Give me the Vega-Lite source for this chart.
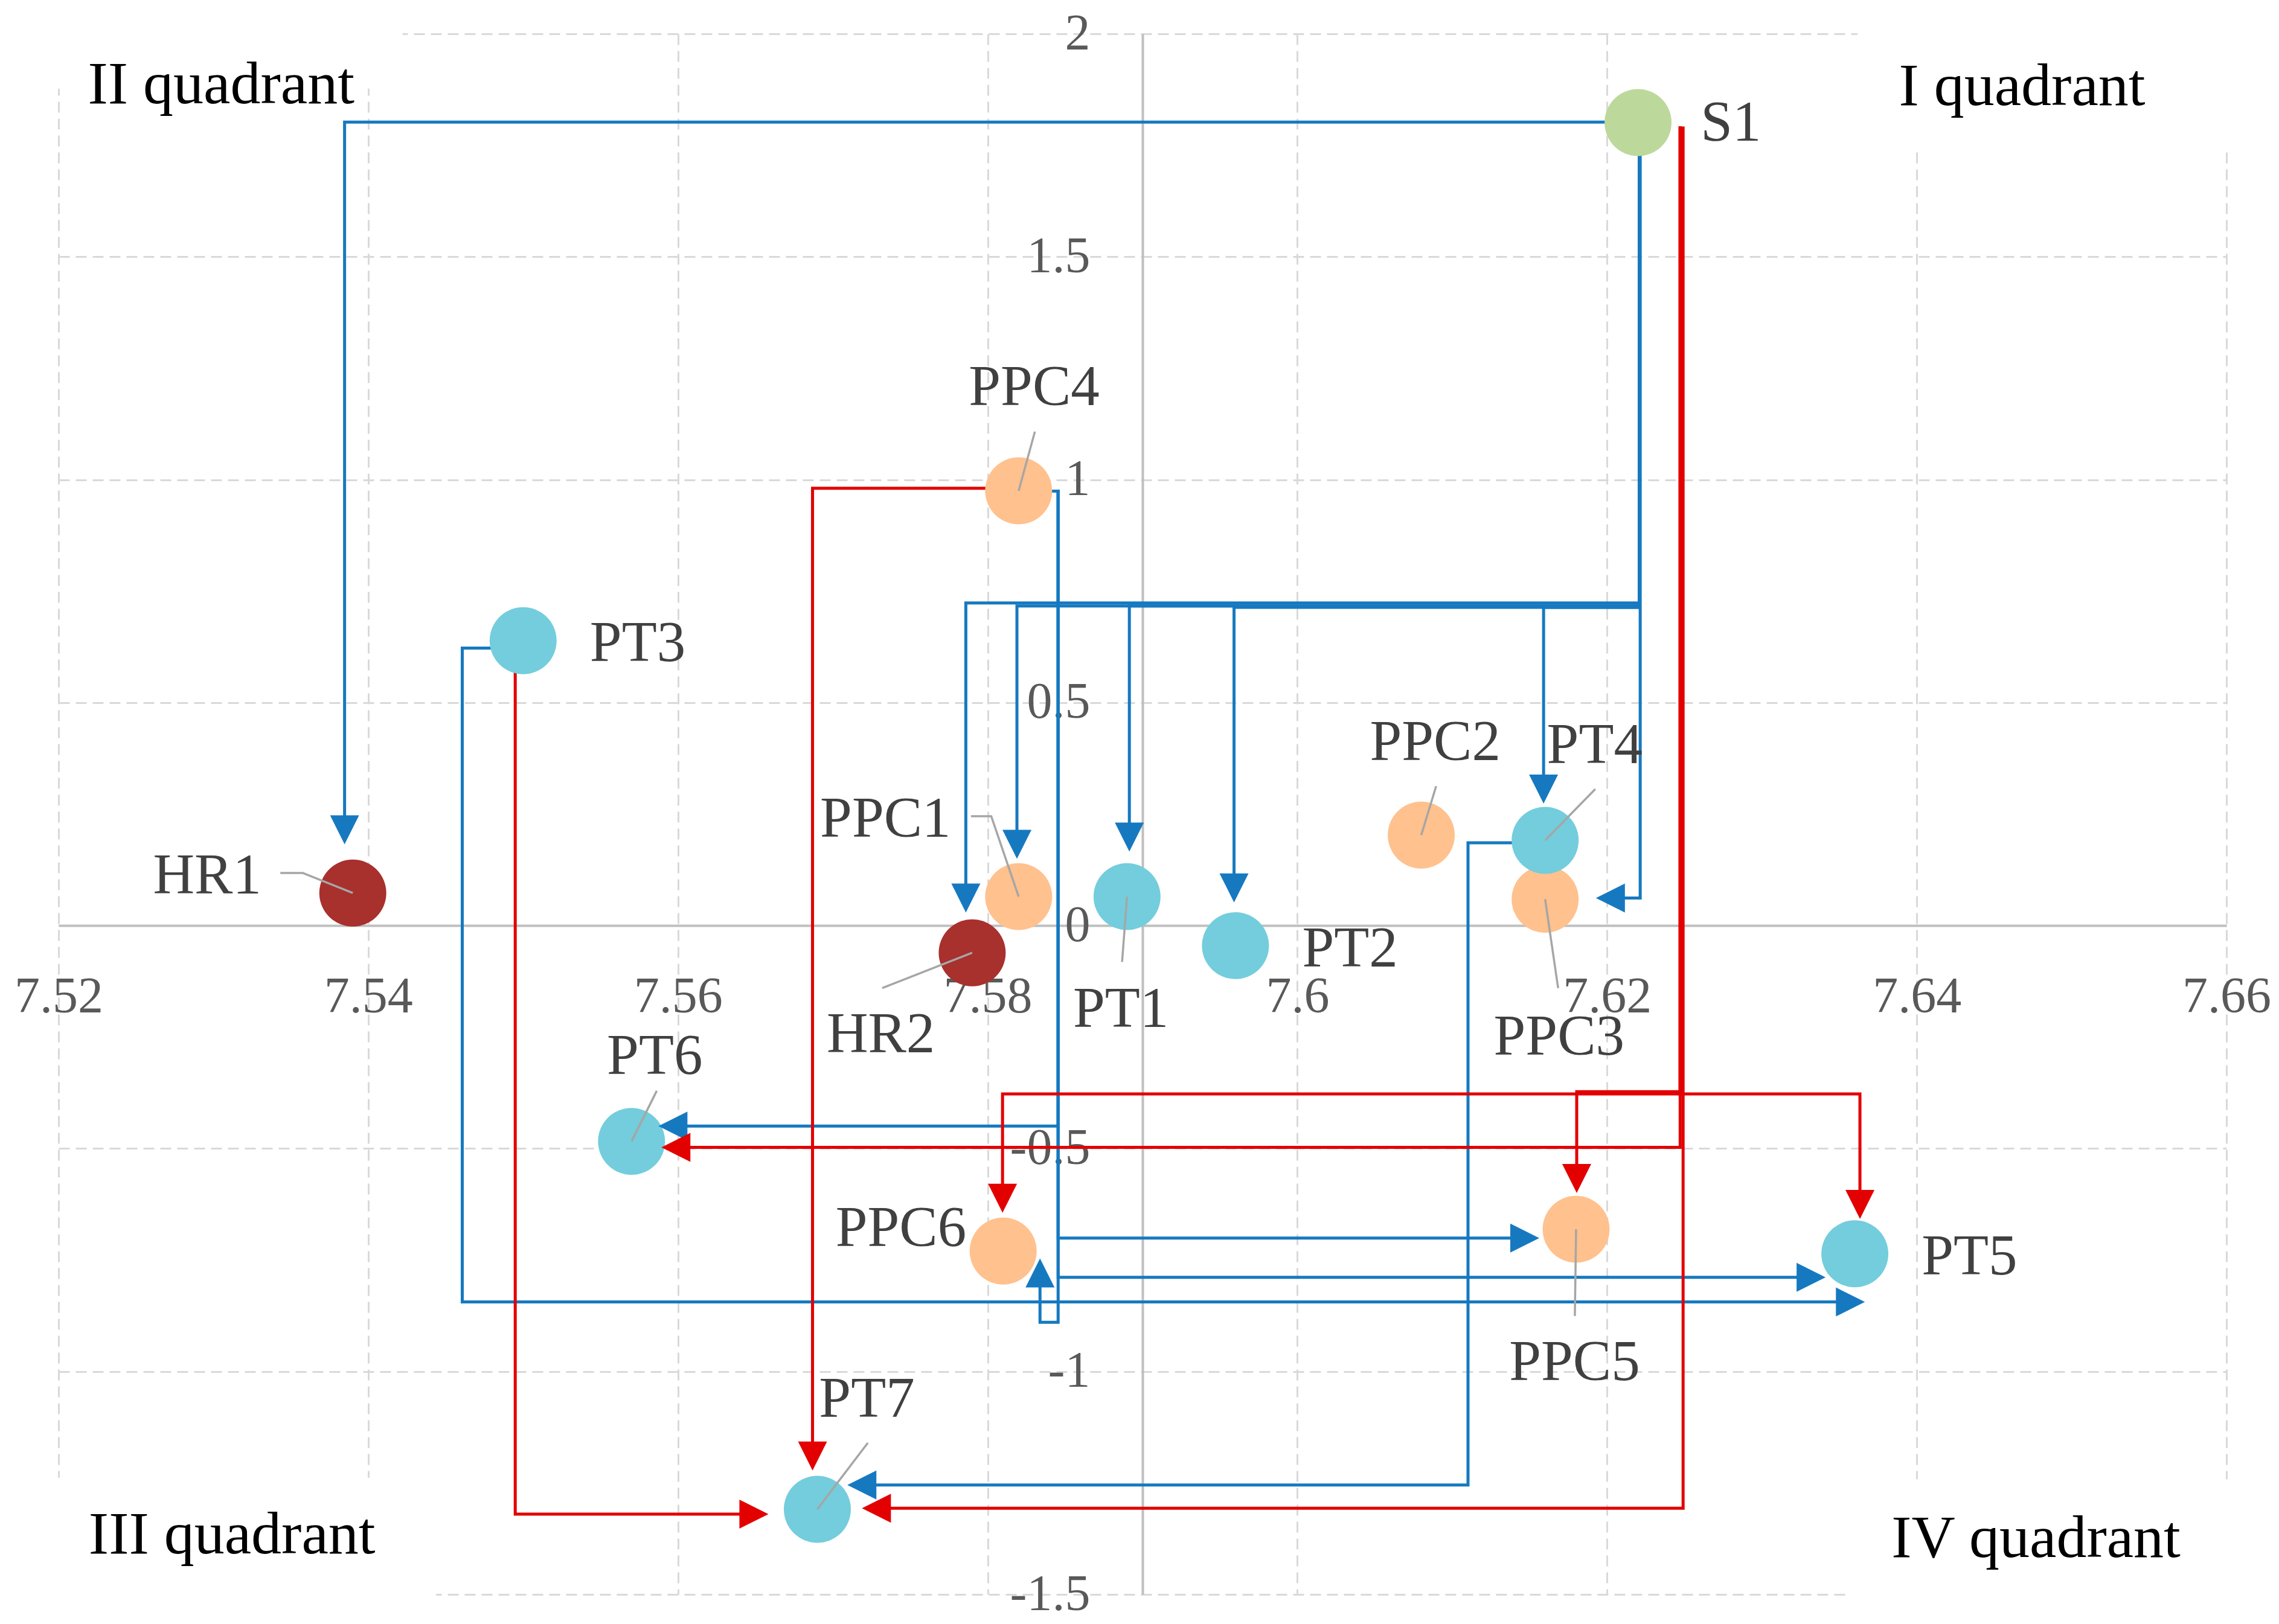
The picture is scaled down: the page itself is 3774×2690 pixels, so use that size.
{
  "$schema": "https://vega.github.io/schema/vega-lite/v6.json",
  "width": 3590,
  "height": 2585,
  "autosize": "none",
  "padding": {"left": 97, "top": 56, "right": 87, "bottom": 49},
  "background": "white",
  "config": {"view": {"stroke": null}, "font": "Liberation Serif"},
  "datasets": {
    "nodes": [
      {"name": "S1", "type": "S", "x": 7.622, "y": 1.801, "lx": 7.628, "ly": 1.799},
      {"name": "PPC4", "type": "PPC", "x": 7.582, "y": 0.975, "lx": 7.583, "ly": 1.207},
      {"name": "PT3", "type": "PT", "x": 7.55, "y": 0.639, "lx": 7.5574, "ly": 0.632},
      {"name": "HR1", "type": "HR", "x": 7.539, "y": 0.073, "lx": 7.5296, "ly": 0.111},
      {"name": "PPC1", "type": "PPC", "x": 7.582, "y": 0.065, "lx": 7.5734, "ly": 0.238},
      {"name": "HR2", "type": "HR", "x": 7.579, "y": -0.061, "lx": 7.5731, "ly": -0.245},
      {"name": "PT1", "type": "PT", "x": 7.589, "y": 0.065, "lx": 7.5886, "ly": -0.188},
      {"name": "PT2", "type": "PT", "x": 7.596, "y": -0.045, "lx": 7.6034, "ly": -0.053},
      {"name": "PPC2", "type": "PPC", "x": 7.608, "y": 0.203, "lx": 7.6089, "ly": 0.411},
      {"name": "PPC3", "type": "PPC", "x": 7.616, "y": 0.059, "lx": 7.6169, "ly": -0.25},
      {"name": "PT4", "type": "PT", "x": 7.616, "y": 0.191, "lx": 7.6192, "ly": 0.403},
      {"name": "PT6", "type": "PT", "x": 7.557, "y": -0.484, "lx": 7.5585, "ly": -0.293},
      {"name": "PPC6", "type": "PPC", "x": 7.581, "y": -0.73, "lx": 7.5744, "ly": -0.679},
      {"name": "PPC5", "type": "PPC", "x": 7.618, "y": -0.681, "lx": 7.6179, "ly": -0.98},
      {"name": "PT5", "type": "PT", "x": 7.636, "y": -0.736, "lx": 7.6434, "ly": -0.743},
      {"name": "PT7", "type": "PT", "x": 7.569, "y": -1.309, "lx": 7.5722, "ly": -1.063}
    ],
    "leaders": [
      {"name": "PPC4", "ord": 1, "x": 7.58305, "y": 1.10794},
      {"name": "PPC4", "ord": 2, "x": 7.582, "y": 0.975},
      {"name": "HR1", "ord": 1, "x": 7.53432, "y": 0.11789},
      {"name": "HR1", "ord": 2, "x": 7.53578, "y": 0.11789},
      {"name": "HR1", "ord": 3, "x": 7.539, "y": 0.073},
      {"name": "PPC1", "ord": 1, "x": 7.57892, "y": 0.24531},
      {"name": "PPC1", "ord": 2, "x": 7.58023, "y": 0.24531},
      {"name": "PPC1", "ord": 3, "x": 7.582, "y": 0.065},
      {"name": "HR2", "ord": 1, "x": 7.57319, "y": -0.14021},
      {"name": "HR2", "ord": 2, "x": 7.579, "y": -0.061},
      {"name": "PT1", "ord": 1, "x": 7.58868, "y": -0.08155},
      {"name": "PT1", "ord": 2, "x": 7.589, "y": 0.065},
      {"name": "PPC2", "ord": 1, "x": 7.60896, "y": 0.31277},
      {"name": "PPC2", "ord": 2, "x": 7.608, "y": 0.203},
      {"name": "PT4", "ord": 1, "x": 7.61924, "y": 0.30625},
      {"name": "PT4", "ord": 2, "x": 7.616, "y": 0.191},
      {"name": "PPC3", "ord": 1, "x": 7.61684, "y": -0.14021},
      {"name": "PPC3", "ord": 2, "x": 7.616, "y": 0.059},
      {"name": "PT6", "ord": 1, "x": 7.55863, "y": -0.37062},
      {"name": "PT6", "ord": 2, "x": 7.557, "y": -0.484},
      {"name": "PPC5", "ord": 1, "x": 7.61792, "y": -0.87542},
      {"name": "PPC5", "ord": 2, "x": 7.618, "y": -0.681},
      {"name": "PT7", "ord": 1, "x": 7.57226, "y": -1.16024},
      {"name": "PT7", "ord": 2, "x": 7.569, "y": -1.309}
    ],
    "links": [
      {"id": "S1-HR1", "kind": "blue", "ord": 1, "x": 7.622, "y": 1.80207},
      {"id": "S1-HR1", "kind": "blue", "ord": 2, "x": 7.53847, "y": 1.80207},
      {"id": "S1-HR1", "kind": "blue", "ord": 3, "x": 7.53847, "y": 0.20849},
      {"id": "S1-HR2", "kind": "blue", "ord": 1, "x": 7.62209, "y": 1.80207},
      {"id": "S1-HR2", "kind": "blue", "ord": 2, "x": 7.62209, "y": 0.72339},
      {"id": "S1-HR2", "kind": "blue", "ord": 3, "x": 7.57859, "y": 0.72339},
      {"id": "S1-HR2", "kind": "blue", "ord": 4, "x": 7.57859, "y": 0.05532},
      {"id": "S1-PPC1", "kind": "blue", "ord": 1, "x": 7.62209, "y": 1.80207},
      {"id": "S1-PPC1", "kind": "blue", "ord": 2, "x": 7.62209, "y": 0.71687},
      {"id": "S1-PPC1", "kind": "blue", "ord": 3, "x": 7.58189, "y": 0.71687},
      {"id": "S1-PPC1", "kind": "blue", "ord": 4, "x": 7.58189, "y": 0.1759},
      {"id": "S1-PT1", "kind": "blue", "ord": 1, "x": 7.62209, "y": 1.80207},
      {"id": "S1-PT1", "kind": "blue", "ord": 2, "x": 7.62209, "y": 0.71687},
      {"id": "S1-PT1", "kind": "blue", "ord": 3, "x": 7.58915, "y": 0.71687},
      {"id": "S1-PT1", "kind": "blue", "ord": 4, "x": 7.58915, "y": 0.19219},
      {"id": "S1-PT2", "kind": "blue", "ord": 1, "x": 7.62209, "y": 1.80207},
      {"id": "S1-PT2", "kind": "blue", "ord": 2, "x": 7.62209, "y": 0.71361},
      {"id": "S1-PT2", "kind": "blue", "ord": 3, "x": 7.59591, "y": 0.71361},
      {"id": "S1-PT2", "kind": "blue", "ord": 4, "x": 7.59591, "y": 0.07813},
      {"id": "S1-PT4", "kind": "blue", "ord": 1, "x": 7.62209, "y": 1.80207},
      {"id": "S1-PT4", "kind": "blue", "ord": 2, "x": 7.62209, "y": 0.71361},
      {"id": "S1-PT4", "kind": "blue", "ord": 3, "x": 7.6159, "y": 0.71361},
      {"id": "S1-PT4", "kind": "blue", "ord": 4, "x": 7.6159, "y": 0.29974},
      {"id": "S1-PPC3", "kind": "blue", "ord": 1, "x": 7.62214, "y": 1.80207},
      {"id": "S1-PPC3", "kind": "blue", "ord": 2, "x": 7.62214, "y": 0.06184},
      {"id": "S1-PPC3", "kind": "blue", "ord": 3, "x": 7.62003, "y": 0.06184},
      {"id": "PPC4-PT6", "kind": "blue", "ord": 1, "x": 7.58202, "y": 0.97432},
      {"id": "PPC4-PT6", "kind": "blue", "ord": 2, "x": 7.58455, "y": 0.97432},
      {"id": "PPC4-PT6", "kind": "blue", "ord": 3, "x": 7.58455, "y": -0.4498},
      {"id": "PPC4-PT6", "kind": "blue", "ord": 4, "x": 7.55949, "y": -0.4498},
      {"id": "PPC4-PPC5", "kind": "blue", "ord": 1, "x": 7.58202, "y": 0.97432},
      {"id": "PPC4-PPC5", "kind": "blue", "ord": 2, "x": 7.58455, "y": 0.97432},
      {"id": "PPC4-PPC5", "kind": "blue", "ord": 3, "x": 7.58455, "y": -0.70074},
      {"id": "PPC4-PPC5", "kind": "blue", "ord": 4, "x": 7.61487, "y": -0.70074},
      {"id": "PPC4-PT5", "kind": "blue", "ord": 1, "x": 7.58202, "y": 0.97432},
      {"id": "PPC4-PT5", "kind": "blue", "ord": 2, "x": 7.58455, "y": 0.97432},
      {"id": "PPC4-PT5", "kind": "blue", "ord": 3, "x": 7.58455, "y": -0.78873},
      {"id": "PPC4-PT5", "kind": "blue", "ord": 4, "x": 7.63336, "y": -0.78873},
      {"id": "PPC4-PPC6", "kind": "blue", "ord": 1, "x": 7.58202, "y": 0.97432},
      {"id": "PPC4-PPC6", "kind": "blue", "ord": 2, "x": 7.58455, "y": 0.97432},
      {"id": "PPC4-PPC6", "kind": "blue", "ord": 3, "x": 7.58455, "y": -0.88975},
      {"id": "PPC4-PPC6", "kind": "blue", "ord": 4, "x": 7.58338, "y": -0.88975},
      {"id": "PPC4-PPC6", "kind": "blue", "ord": 5, "x": 7.58338, "y": -0.77243},
      {"id": "PT3-PT5", "kind": "blue", "ord": 1, "x": 7.55001, "y": 0.62236},
      {"id": "PT3-PT5", "kind": "blue", "ord": 2, "x": 7.54607, "y": 0.62236},
      {"id": "PT3-PT5", "kind": "blue", "ord": 3, "x": 7.54607, "y": -0.84413},
      {"id": "PT3-PT5", "kind": "blue", "ord": 4, "x": 7.63589, "y": -0.84413},
      {"id": "PT4-PT7", "kind": "blue", "ord": 1, "x": 7.6159, "y": 0.18568},
      {"id": "PT4-PT7", "kind": "blue", "ord": 2, "x": 7.61102, "y": 0.18568},
      {"id": "PT4-PT7", "kind": "blue", "ord": 3, "x": 7.61102, "y": -1.25475},
      {"id": "PT4-PT7", "kind": "blue", "ord": 4, "x": 7.57169, "y": -1.25475},
      {"id": "S1-PT6", "kind": "red", "ord": 1, "x": 7.62472, "y": 1.7923},
      {"id": "S1-PT6", "kind": "red", "ord": 2, "x": 7.62472, "y": -0.49738},
      {"id": "S1-PT6", "kind": "red", "ord": 3, "x": 7.55968, "y": -0.49738},
      {"id": "S1-PPC6", "kind": "red", "ord": 1, "x": 7.62472, "y": 1.7923},
      {"id": "S1-PPC6", "kind": "red", "ord": 2, "x": 7.62472, "y": -0.37746},
      {"id": "S1-PPC6", "kind": "red", "ord": 3, "x": 7.58096, "y": -0.37746},
      {"id": "S1-PPC6", "kind": "red", "ord": 4, "x": 7.58096, "y": -0.61796},
      {"id": "S1-PT5", "kind": "red", "ord": 1, "x": 7.62472, "y": 1.7923},
      {"id": "S1-PT5", "kind": "red", "ord": 2, "x": 7.62472, "y": -0.37746},
      {"id": "S1-PT5", "kind": "red", "ord": 3, "x": 7.63633, "y": -0.37746},
      {"id": "S1-PT5", "kind": "red", "ord": 4, "x": 7.63633, "y": -0.63165},
      {"id": "S1-PPC5", "kind": "red", "ord": 1, "x": 7.62472, "y": 1.7923},
      {"id": "S1-PPC5", "kind": "red", "ord": 2, "x": 7.62472, "y": -0.37257},
      {"id": "S1-PPC5", "kind": "red", "ord": 3, "x": 7.61804, "y": -0.37257},
      {"id": "S1-PPC5", "kind": "red", "ord": 4, "x": 7.61804, "y": -0.57364},
      {"id": "S1-PT7", "kind": "red", "ord": 1, "x": 7.62491, "y": 1.7923},
      {"id": "S1-PT7", "kind": "red", "ord": 2, "x": 7.62491, "y": -1.30689},
      {"id": "S1-PT7", "kind": "red", "ord": 3, "x": 7.57263, "y": -1.30689},
      {"id": "PPC4-PT7", "kind": "red", "ord": 1, "x": 7.58202, "y": 0.98084},
      {"id": "PPC4-PT7", "kind": "red", "ord": 2, "x": 7.56869, "y": 0.98084},
      {"id": "PPC4-PT7", "kind": "red", "ord": 3, "x": 7.56869, "y": -1.19609},
      {"id": "PT3-PT7", "kind": "red", "ord": 1, "x": 7.54949, "y": 0.63866},
      {"id": "PT3-PT7", "kind": "red", "ord": 2, "x": 7.54949, "y": -1.31992},
      {"id": "PT3-PT7", "kind": "red", "ord": 3, "x": 7.56509, "y": -1.31992}
    ],
    "arrows": [
      {"kind": "blue", "dir": "down", "x": 7.53847, "y": 0.18242},
      {"kind": "blue", "dir": "down", "x": 7.57859, "y": 0.02925},
      {"kind": "blue", "dir": "down", "x": 7.58189, "y": 0.14983},
      {"kind": "blue", "dir": "down", "x": 7.58915, "y": 0.16612},
      {"kind": "blue", "dir": "down", "x": 7.59591, "y": 0.05206},
      {"kind": "blue", "dir": "down", "x": 7.6159, "y": 0.27367},
      {"kind": "blue", "dir": "left", "x": 7.61928, "y": 0.06184},
      {"kind": "blue", "dir": "left", "x": 7.55874, "y": -0.4498},
      {"kind": "blue", "dir": "right", "x": 7.61562, "y": -0.70074},
      {"kind": "blue", "dir": "right", "x": 7.63411, "y": -0.78873},
      {"kind": "blue", "dir": "up", "x": 7.58338, "y": -0.74636},
      {"kind": "blue", "dir": "right", "x": 7.63665, "y": -0.84413},
      {"kind": "blue", "dir": "left", "x": 7.57094, "y": -1.25475},
      {"kind": "red", "dir": "left", "x": 7.55893, "y": -0.49738},
      {"kind": "red", "dir": "down", "x": 7.58096, "y": -0.64403},
      {"kind": "red", "dir": "down", "x": 7.63633, "y": -0.65772},
      {"kind": "red", "dir": "down", "x": 7.61804, "y": -0.59971},
      {"kind": "red", "dir": "left", "x": 7.57188, "y": -1.30689},
      {"kind": "red", "dir": "down", "x": 7.56869, "y": -1.22216},
      {"kind": "red", "dir": "right", "x": 7.56584, "y": -1.31992}
    ],
    "quadrants": [
      {"label": "II quadrant", "x": 7.5305, "y": 1.8845},
      {"label": "I quadrant", "x": 7.6468, "y": 1.8813},
      {"label": "III quadrant", "x": 7.5312, "y": -1.3675},
      {"label": "IV quadrant", "x": 7.6477, "y": -1.3753}
    ],
    "boxes": [
      {"x": 7.515, "x2": 7.54222, "y": 1.87703, "y2": 2.03},
      {"x": 7.63618, "x2": 7.665, "y": 1.74341, "y2": 2.03},
      {"x": 7.515, "x2": 7.54438, "y": -1.53, "y2": -1.23845},
      {"x": 7.63561, "x2": 7.665, "y": -1.53, "y2": -1.24171}
    ]
  },
  "encoding": {
    "x": {
      "field": "x", "type": "quantitative",
      "scale": {"domain": [7.52, 7.66], "nice": false, "zero": false},
      "axis": {
        "orient": "bottom", "offset": -1108, "title": null,
        "values": [7.52, 7.54, 7.56, 7.58, 7.6, 7.62, 7.64, 7.66],
        "labelExpr": "'' + datum.value",
        "grid": true, "gridColor": "#D9D9D9", "gridDash": [18, 10], "gridWidth": 3,
        "domain": true, "domainColor": "#BFBFBF", "domainWidth": 4,
        "ticks": false, "tickSize": 0,
        "labelFont": "Liberation Serif", "labelFontSize": 84, "labelColor": "#595959",
        "labelBaseline": "middle", "labelPadding": 118, "labelFlush": false, "labelOverlap": false, "labelBound": false,
        "zindex": 0
      }
    },
    "y": {
      "field": "y", "type": "quantitative",
      "scale": {"domain": [-1.5, 2], "nice": false, "zero": false},
      "axis": {
        "orient": "left", "offset": -1795, "title": null,
        "values": [-1.5, -1, -0.5, 0, 0.5, 1, 1.5, 2],
        "labelExpr": "'' + datum.value",
        "grid": true, "gridColor": "#D9D9D9", "gridDash": [18, 10], "gridWidth": 3,
        "domain": true, "domainColor": "#BFBFBF", "domainWidth": 4,
        "ticks": false, "tickSize": 0,
        "labelFont": "Liberation Serif", "labelFontSize": 84, "labelColor": "#595959",
        "labelAlign": "right", "labelBaseline": "middle", "labelPadding": 87, "labelFlush": false, "labelOverlap": false, "labelBound": false,
        "zindex": 0
      }
    }
  },
  "layer": [
    {
      "data": {"name": "boxes"},
      "mark": {"type": "rect", "fill": "white", "stroke": null},
      "encoding": {
        "x2": {"field": "x2"},
        "y2": {"field": "y2"}
      }
    },
    {
      "data": {"name": "links"},
      "mark": {"type": "line", "strokeWidth": 5, "strokeCap": "butt", "strokeJoin": "miter", "interpolate": "linear"},
      "encoding": {
        "detail": {"field": "id", "type": "nominal"},
        "order": {"field": "ord", "type": "quantitative"},
        "color": {"field": "kind", "type": "nominal", "scale": {"domain": ["blue", "red"], "range": ["#1679C0", "#E30000"]}, "legend": null}
      }
    },
    {
      "data": {"name": "nodes"},
      "mark": {"type": "point", "filled": true, "opacity": 1, "size": 12300, "shape": "circle", "strokeWidth": 0},
      "encoding": {
        "fill": {"field": "type", "type": "nominal", "scale": {"domain": ["S", "PPC", "PT", "HR"], "range": ["#BDD89B", "#FFC18E", "#73CDDC", "#A8302D"]}, "legend": null}
      }
    },
    {
      "data": {"name": "arrows"},
      "mark": {"type": "point", "filled": true, "opacity": 1, "size": 2304, "strokeWidth": 0},
      "encoding": {
        "shape": {"field": "dir", "type": "nominal", "scale": {"domain": ["down", "left", "up", "right"], "range": ["M0,0L-1,-2L1,-2Z", "M0,0L2,-1L2,1Z", "M0,0L-1,2L1,2Z", "M0,0L-2,-1L-2,1Z"]}, "legend": null},
        "color": {"field": "kind", "type": "nominal", "scale": {"domain": ["blue", "red"], "range": ["#1679C0", "#E30000"]}, "legend": null}
      }
    },
    {
      "data": {"name": "leaders"},
      "mark": {"type": "line", "strokeWidth": 3.5, "color": "#A6A6A6"},
      "encoding": {
        "detail": {"field": "name", "type": "nominal"},
        "order": {"field": "ord", "type": "quantitative"}
      }
    },
    {
      "data": {"name": "nodes"},
      "mark": {"type": "text", "font": "Liberation Serif", "fontSize": 95, "color": "#404040", "align": "center", "baseline": "middle"},
      "encoding": {
        "x": {"field": "lx", "type": "quantitative"},
        "y": {"field": "ly", "type": "quantitative"},
        "text": {"field": "name", "type": "nominal"}
      }
    },
    {
      "data": {"name": "quadrants"},
      "mark": {"type": "text", "font": "Liberation Serif", "fontSize": 100, "color": "#000000", "align": "center", "baseline": "middle"},
      "encoding": {
        "text": {"field": "label", "type": "nominal"}
      }
    }
  ]
}
